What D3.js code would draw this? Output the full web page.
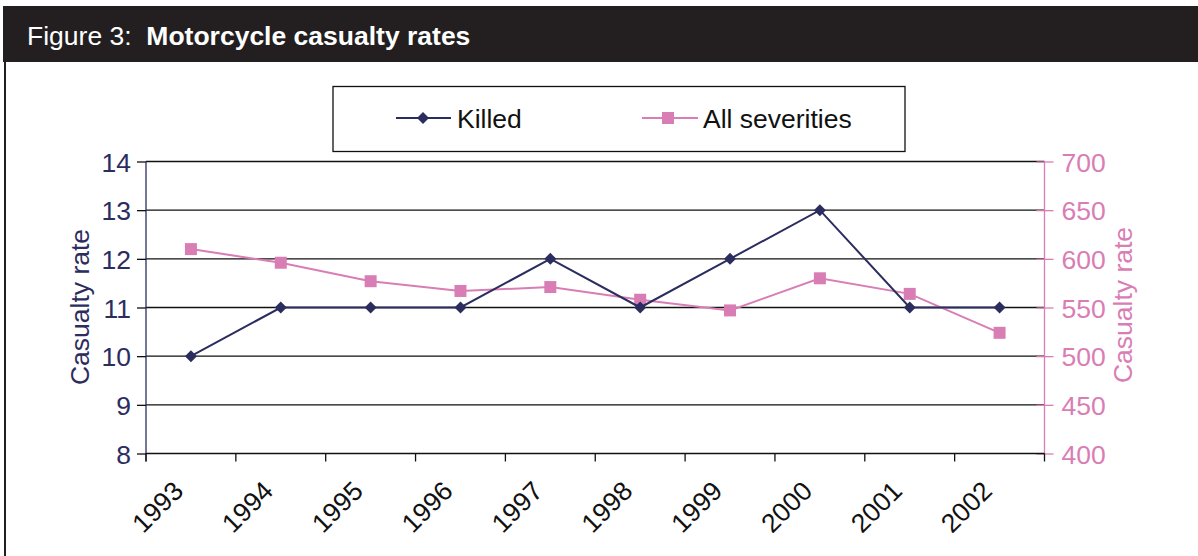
<!DOCTYPE html>
<html><head><meta charset="utf-8">
<script src="https://cdn.jsdelivr.net/npm/d3@7"></script>
<style>
body{margin:0;background:#fff;}
svg{display:block;font-family:"Liberation Sans",Arial,Helvetica,sans-serif;}
</style></head>
<body>
<svg id="c" width="1198" height="556"></svg>
<script>
const years = ["1993","1994","1995","1996","1997","1998","1999","2000","2001","2002"];
const killed = [10,11,11,11,12,11,12,13,11,11];
const allSeverities = [610,596,577,567,571,558,547,580,564,524];
const leftTicks = [8,9,10,11,12,13,14];
const rightTicks = [400,450,500,550,600,650,700];
const titleA = "Figure 3:\u00a0\u00a0";
const titleB = "Motorcycle casualty rates";
const seriesNames = ["Killed","All severities"];
const axisTitle = "Casualty rate";

const NAVY = "#2b2d5e", PINK = "#d97db5", DARK = "#231f20";
const FS = 26.5;
const svg = d3.select("#c");

// title bar
svg.append("rect").attr("x",3).attr("y",6).attr("width",1195).attr("height",56).attr("fill",DARK);
svg.append("rect").attr("x",4).attr("y",62).attr("width",2).attr("height",494).attr("fill",DARK);
const tt = svg.append("text").attr("x",27).attr("y",45).attr("fill","#fff").attr("font-size",FS);
tt.append("tspan").text(titleA);
tt.append("tspan").attr("font-weight","bold").text(titleB);

const L = 146, R = 1044.5, T = 161.5, B = 453.5;
const x = d3.scaleBand().domain(years).range([L,R]);
const yL = d3.scaleLinear().domain([8,14]).range([B,T]);
const yR = d3.scaleLinear().domain([400,700]).range([B,T]);

// gridlines
svg.append("g").selectAll("line").data(leftTicks.slice(1)).join("line")
  .attr("x1",L).attr("x2",R).attr("y1",d=>yL(d)).attr("y2",d=>yL(d))
  .attr("stroke","#111").attr("stroke-width",1.3);

// left axis
const gl = svg.append("g").attr("transform",`translate(${L},0)`)
  .call(d3.axisLeft(yL).tickValues(leftTicks).tickFormat(d3.format("d")).tickSize(9).tickPadding(6));
gl.select(".domain").attr("stroke",NAVY).attr("stroke-width",1.3).attr("d",`M0,${T}V${B+8}`);
gl.selectAll(".tick line").attr("stroke","#111").attr("stroke-width",1.3);
gl.selectAll(".tick text").attr("fill",NAVY).attr("font-size",FS).attr("font-family","Liberation Sans,Arial,sans-serif").attr("dy","0.36em");

// right axis
const gr = svg.append("g").attr("transform",`translate(${R},0)`)
  .call(d3.axisRight(yR).tickValues(rightTicks).tickFormat(d3.format("d")).tickSize(9).tickPadding(8));
gr.select(".domain").attr("stroke",PINK).attr("stroke-width",1.3).attr("d",`M0,${T}V${B}`);
gr.selectAll(".tick line").attr("stroke",PINK).attr("stroke-width",1.3).attr("x1",-8);
gr.selectAll(".tick text").attr("fill",PINK).attr("font-size",FS).attr("font-family","Liberation Sans,Arial,sans-serif").attr("dy","0.36em");

// bottom axis
const gb = svg.append("g").attr("transform",`translate(0,${B})`)
  .call(d3.axisBottom(x).tickSize(0).tickFormat(""));
gb.select(".domain").attr("stroke","#111").attr("stroke-width",1.3).attr("d",`M${L},0H${R}`);
svg.append("g").selectAll("line").data(years.map(d=>x(d)).concat([R])).join("line")
  .attr("x1",d=>d).attr("x2",d=>d).attr("y1",B).attr("y2",B+8)
  .attr("stroke","#111").attr("stroke-width",1.3);
svg.append("g").selectAll("text").data(years).join("text")
  .attr("transform",d=>`translate(${x(d)+x.bandwidth()/2-6},${B+39}) rotate(-45)`)
  .attr("text-anchor","end").attr("font-size",FS).attr("fill","#111")
  .text(d=>d);

// axis titles
svg.append("text").attr("transform",`translate(89,307) rotate(-90)`).attr("text-anchor","middle")
  .attr("font-size",FS).attr("fill",NAVY).text(axisTitle);
svg.append("text").attr("transform",`translate(1132,305) rotate(-90)`).attr("text-anchor","middle")
  .attr("font-size",FS).attr("fill",PINK).text(axisTitle);

const cx = d => x(d)+x.bandwidth()/2;
// pink series
svg.append("path").datum(allSeverities).attr("fill","none").attr("stroke",PINK).attr("stroke-width",2)
  .attr("d",d3.line().x((d,i)=>cx(years[i])).y(d=>yR(d)));
svg.append("g").selectAll("rect").data(allSeverities).join("rect")
  .attr("x",(d,i)=>cx(years[i])-6).attr("y",d=>yR(d)-6).attr("width",12).attr("height",12)
  .attr("fill",PINK);
// navy series
svg.append("path").datum(killed).attr("fill","none").attr("stroke",NAVY).attr("stroke-width",2)
  .attr("d",d3.line().x((d,i)=>cx(years[i])).y(d=>yL(d)));
const diamond = d3.symbol().type(d3.symbolSquare).size(72);
svg.append("g").selectAll("path").data(killed).join("path")
  .attr("transform",(d,i)=>`translate(${cx(years[i])},${yL(d)}) rotate(45)`)
  .attr("d",diamond()).attr("fill",NAVY);

// legend
const lg = svg.append("g");
lg.append("rect").attr("x",333).attr("y",86.5).attr("width",572).attr("height",65)
  .attr("fill","#fff").attr("stroke","#111").attr("stroke-width",1.3);
const ly = 118;
lg.append("line").attr("x1",396).attr("x2",451).attr("y1",ly).attr("y2",ly).attr("stroke",NAVY).attr("stroke-width",2);
lg.append("path").attr("transform",`translate(423,${ly}) rotate(45)`).attr("d",diamond()).attr("fill",NAVY);
lg.append("text").attr("x",457).attr("y",ly).attr("dy","0.36em").attr("font-size",FS).attr("fill","#111").text(seriesNames[0]);
lg.append("line").attr("x1",642).attr("x2",698).attr("y1",ly).attr("y2",ly).attr("stroke",PINK).attr("stroke-width",2);
lg.append("rect").attr("x",662).attr("y",ly-6).attr("width",12).attr("height",12).attr("fill",PINK);
lg.append("text").attr("x",703).attr("y",ly).attr("dy","0.36em").attr("font-size",FS).attr("fill","#111").text(seriesNames[1]);
</script>
</body></html>
